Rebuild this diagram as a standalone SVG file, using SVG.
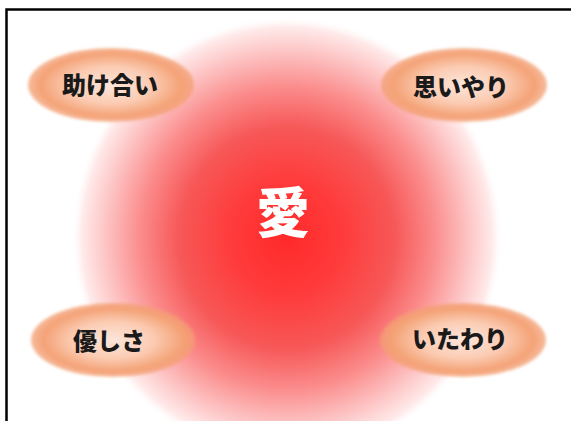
<svg xmlns="http://www.w3.org/2000/svg" width="571" height="421" viewBox="0 0 571 421">
<defs>
<radialGradient id="love" cx="0.5" cy="0.5" r="0.5">
<stop offset="0" stop-color="#ff2a2a"/>
<stop offset="0.25" stop-color="#ff3a3a"/>
<stop offset="0.5" stop-color="#f75858"/>
<stop offset="0.68" stop-color="#fb8c8c"/>
<stop offset="0.84" stop-color="#fdc4c4"/>
<stop offset="0.95" stop-color="#ffeaea"/>
<stop offset="1" stop-color="#ffffff" stop-opacity="0"/>
</radialGradient>
<radialGradient id="pill" cx="0.5" cy="0.5" r="0.5">
<stop offset="0" stop-color="#fde6da"/>
<stop offset="0.5" stop-color="#fbcbb2"/>
<stop offset="0.85" stop-color="#f4a276"/>
<stop offset="1" stop-color="#f39e72" stop-opacity="0.7"/>
</radialGradient>
<filter id="soft" x="-10%" y="-10%" width="120%" height="120%">
<feGaussianBlur stdDeviation="1.5"/>
</filter>
</defs>
<style>
.lbl{font-family:"Noto Sans CJK JP","Noto Sans CJK SC",sans-serif;font-weight:900;font-size:24px;fill:#1a1a1a;text-anchor:middle;dominant-baseline:central}
.core{font-family:"Noto Sans CJK JP","Noto Sans CJK SC",sans-serif;font-weight:900;font-size:54px;fill:#ffffff;text-anchor:middle;dominant-baseline:central}
.ell{fill:url(#pill);filter:url(#soft)}
</style>
<rect x="0" y="0" width="571" height="421" fill="#ffffff"/>
<rect x="6.5" y="9.5" width="580" height="430" fill="none" stroke="#000000" stroke-width="2.5"/>
<g id="center">
<ellipse cx="287" cy="238" rx="216" ry="222" fill="url(#love)"/>
<text class="core" x="283" y="209">愛</text>
</g>
<g id="connectors"></g>
<g id="n1">
<ellipse class="ell" cx="111" cy="85" rx="83" ry="37"/>
<text class="lbl" x="110" y="83">助け合い</text>
</g>
<g id="n2">
<ellipse class="ell" cx="464" cy="85" rx="83" ry="37"/>
<text class="lbl" x="461" y="85">思いやり</text>
</g>
<g id="n3">
<ellipse class="ell" cx="113" cy="340" rx="82" ry="37"/>
<text class="lbl" x="109" y="339">優しさ</text>
</g>
<g id="n4">
<ellipse class="ell" cx="463" cy="340" rx="83" ry="37"/>
<text class="lbl" x="460" y="337">いたわり</text>
</g>
</svg>
